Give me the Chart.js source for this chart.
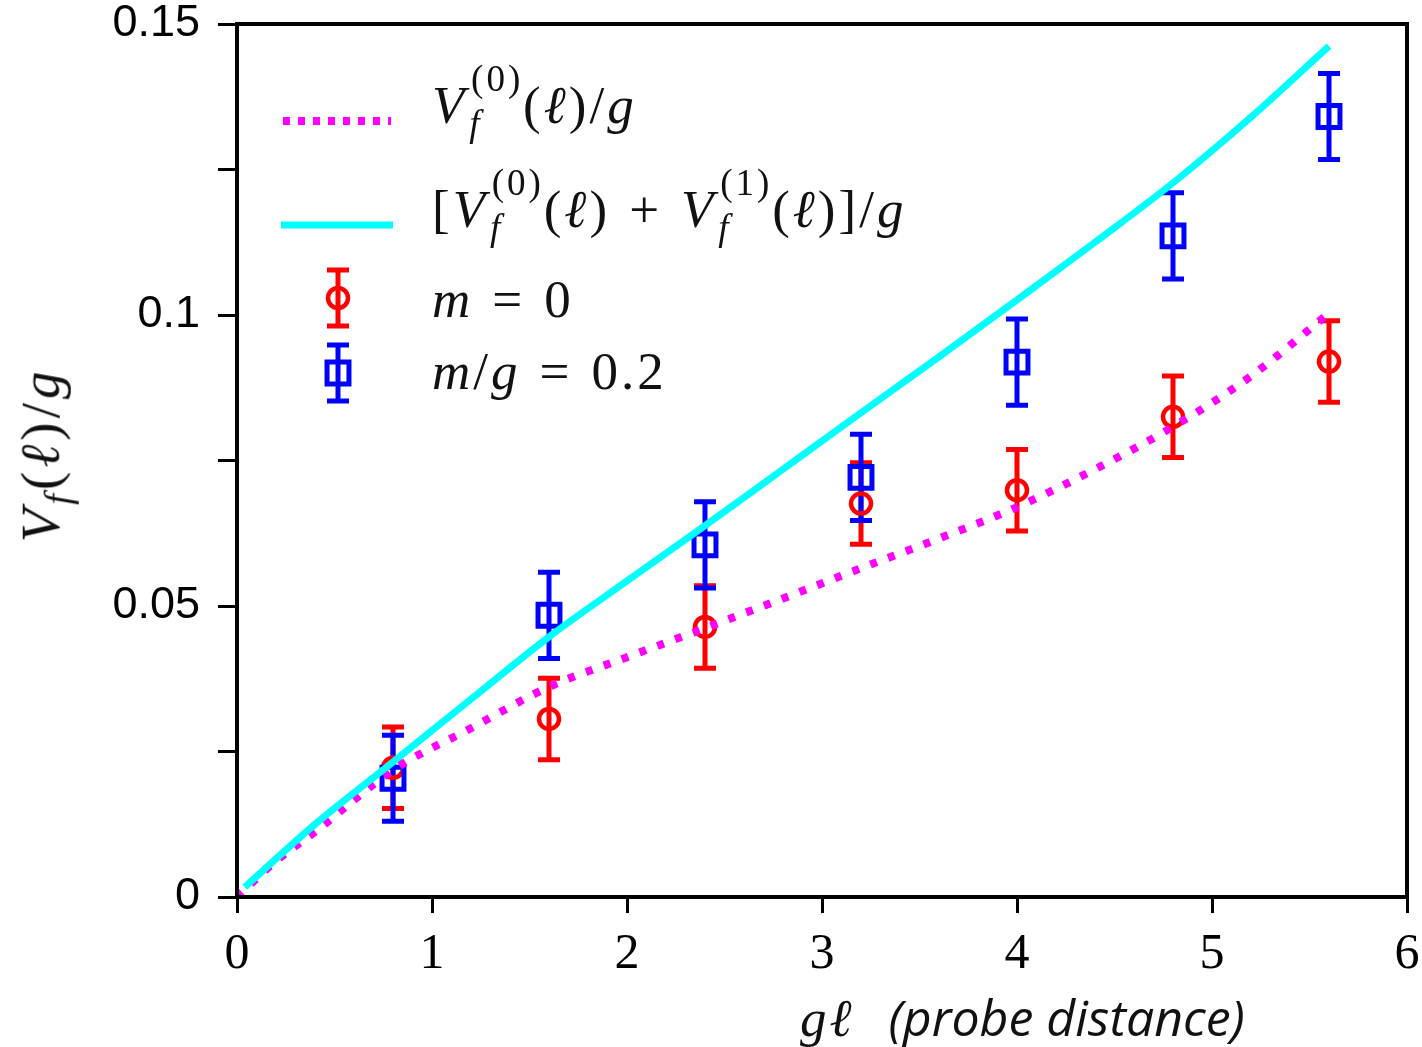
<!DOCTYPE HTML>
<html>
<head>
    <meta charset="utf-8">
    <script src="https://cdn.jsdelivr.net/npm/chart.js"></script>
    <style>
        body {
            margin: 0;
            background: white;
        }
        .wrap {
            position: relative;
            width: 1422px;
            height: 1047px;
        }
        .math {
            position: absolute;
            font-family: 'Liberation Serif', serif;
            font-size: 53px;
            letter-spacing: 3px;
            line-height: 1;
            white-space: nowrap;
            color: #111;
        }
        .math i { font-style: italic; }
        .ss {
            display: inline-block;
            position: relative;
            font-size: 0.7em;
            width: 1.5em;
        }
        .sp { position: relative; top: -0.85em; left: 0.1em; }
        .sb { position: absolute; left: 0.05em; top: 0.35em; font-style: italic; }
        .op { margin: 0 0.36em; }
        #ytitle {
            left: 45px;
            top: 455px;
            font-size: 55px;
            letter-spacing: 4px;
            transform: translate(-50%, -50%) rotate(-90deg);
        }
        #xtitle {
            left: 800px;
            top: 992px;
        }
        #xtitle .probe {
            font-family: 'Open Sans', sans-serif;
            font-style: italic;
            font-size: 50px;
            letter-spacing: 0;
            margin-left: 34px;
        }
    </style>
</head>
<body>
    <div class="wrap">
        <canvas id="chart" width="1422" height="1047"></canvas>

        <div class="math" style="left:432px; top:79px;"><i>V</i><span class="ss"><span class="sp">(0)</span><span class="sb">f</span></span>(<i>ℓ</i>)/<i>g</i></div>
        <div class="math" style="left:432px; top:183px;">[<i>V</i><span class="ss"><span class="sp">(0)</span><span class="sb">f</span></span>(<i>ℓ</i>)<span class="op">+</span><i>V</i><span class="ss"><span class="sp">(1)</span><span class="sb">f</span></span>(<i>ℓ</i>)]/<i>g</i></div>
        <div class="math" style="left:432px; top:273px;"><i>m</i><span class="op">=</span>0</div>
        <div class="math" style="left:432px; top:345px;"><i>m</i>/<i>g</i><span class="op">=</span>0.2</div>

        <div class="math" id="ytitle"><i>V<sub style="font-size:0.7em">f</sub></i>(<i>ℓ</i>)/<i>g</i></div>
        <div class="math" id="xtitle"><i>gℓ</i><span class="probe">(probe distance)</span></div>
    </div>

    <script>
        // x positions (g*l) of the lattice points
        const xPoints = [0.8, 1.6, 2.4, 3.2, 4.0, 4.8, 5.6];
        // m = 0 data and errors
        const m0Values = [0.0222, 0.0306, 0.0464, 0.0676, 0.0699, 0.0825, 0.0920];
        const m0Errors = [0.0070, 0.0070, 0.0071, 0.0070, 0.0070, 0.0070, 0.0070];
        // m/g = 0.2 data and errors
        const m02Values = [0.0204, 0.0484, 0.0605, 0.0721, 0.0919, 0.1136, 0.1341];
        const m02Errors = [0.0074, 0.0074, 0.0074, 0.0074, 0.0074, 0.0074, 0.0074];

        // V_f^(0)/g curve
        const v0X = [0, 0.2, 0.4, 0.8, 1.2, 1.6, 2.0, 2.4, 2.8, 3.2, 3.6, 4.0, 4.4, 4.8, 5.2, 5.6];
        const v0Y = [0, 0.0062, 0.0112, 0.0218, 0.0290, 0.0361, 0.0412, 0.0462, 0.0513, 0.0565, 0.0616, 0.0670, 0.0735, 0.0808, 0.0895, 0.1003];
        // [V_f^(0) + V_f^(1)]/g curve
        const v01X = [0.04, 0.4, 0.8, 1.2, 1.6, 2.0, 2.4, 2.8, 3.2, 3.6, 4.0, 4.4, 4.8, 5.2, 5.6];
        const v01Y = [0.0017, 0.0125, 0.0232, 0.0340, 0.0447, 0.0543, 0.0638, 0.0735, 0.0832, 0.0928, 0.1026, 0.1125, 0.1227, 0.1340, 0.1462];

        const xTickLabels = ['0', '1', '2', '3', '4', '5', '6'];
        const yTickLabels = ['0', '0.05', '0.1', '0.15'];

        const toXY = (xs, ys) => xs.map((x, i) => ({x: x, y: ys[i]}));

        // error bars drawn through the chart scales
        const errorBars = {
            id: 'errorBars',
            beforeDatasetsDraw(chart) {
                const ctx = chart.ctx;
                const xs = chart.scales.x, ys = chart.scales.y;
                chart.data.datasets.forEach(ds => {
                    if (!ds.errors) return;
                    ctx.save();
                    ctx.strokeStyle = ds.borderColor;
                    ctx.lineWidth = 5;
                    ds.data.forEach((p, i) => {
                        const px = xs.getPixelForValue(p.x);
                        const top = ys.getPixelForValue(p.y + ds.errors[i]);
                        const bot = ys.getPixelForValue(p.y - ds.errors[i]);
                        ctx.beginPath();
                        ctx.moveTo(px, top); ctx.lineTo(px, bot);
                        ctx.moveTo(px - 11, top); ctx.lineTo(px + 11, top);
                        ctx.moveTo(px - 11, bot); ctx.lineTo(px + 11, bot);
                        ctx.stroke();
                    });
                    ctx.restore();
                });
            }
        };

        // frame round the plot area
        const frame = {
            id: 'frame',
            afterDraw(chart) {
                const a = chart.chartArea, ctx = chart.ctx;
                ctx.save();
                ctx.strokeStyle = 'black';
                ctx.lineWidth = 4;
                ctx.strokeRect(a.left, a.top, a.right - a.left, a.bottom - a.top);
                ctx.restore();
            }
        };

        // legend samples (the text is html beside them)
        const legendSamples = {
            id: 'legendSamples',
            afterDraw(chart) {
                const ctx = chart.ctx;
                const ds = chart.data.datasets;
                ctx.save();
                ctx.lineCap = 'butt';
                // dotted magenta
                ctx.strokeStyle = ds[0].borderColor;
                ctx.lineWidth = ds[0].borderWidth;
                ctx.setLineDash([7, 8]);
                ctx.beginPath(); ctx.moveTo(283, 121); ctx.lineTo(391, 121); ctx.stroke();
                ctx.setLineDash([]);
                // cyan
                ctx.strokeStyle = ds[1].borderColor;
                ctx.lineWidth = ds[1].borderWidth;
                ctx.beginPath(); ctx.moveTo(281, 225); ctx.lineTo(393, 225); ctx.stroke();
                // symbols with error bars
                [[ds[2], 298], [ds[3], 373]].forEach(([d, cy]) => {
                    ctx.strokeStyle = d.borderColor;
                    ctx.fillStyle = 'rgba(0,0,0,0)';
                    ctx.lineWidth = 5;
                    ctx.beginPath();
                    ctx.moveTo(338, cy - 28); ctx.lineTo(338, cy + 28);
                    ctx.moveTo(327, cy - 28); ctx.lineTo(349, cy - 28);
                    ctx.moveTo(327, cy + 28); ctx.lineTo(349, cy + 28);
                    ctx.stroke();
                    ctx.lineWidth = d.pointBorderWidth;
                    Chart.helpers.drawPoint(ctx, {
                        pointStyle: d.pointStyle, radius: d.pointRadius,
                        borderWidth: d.pointBorderWidth, rotation: 0
                    }, 338, cy);
                });
                ctx.restore();
            }
        };

        new Chart(document.getElementById('chart'), {
            type: 'scatter',
            data: {
                datasets: [{
                    label: 'V0',
                    data: toXY(v0X, v0Y),
                    showLine: true,
                    borderColor: '#ff00ff',
                    borderWidth: 8,
                    borderDash: [7, 12],
                    borderCapStyle: 'butt',
                    cubicInterpolationMode: 'monotone',
                    pointRadius: 0,
                    order: 1
                }, {
                    label: 'V0+V1',
                    data: toXY(v01X, v01Y),
                    showLine: true,
                    borderColor: '#00ffff',
                    borderWidth: 7,
                    cubicInterpolationMode: 'monotone',
                    pointRadius: 0,
                    order: 0
                }, {
                    label: 'm = 0',
                    data: toXY(xPoints, m0Values),
                    errors: m0Errors,
                    borderColor: '#ff0000',
                    backgroundColor: 'rgba(0,0,0,0)',
                    pointStyle: 'circle',
                    pointRadius: 10,
                    pointBorderWidth: 4.5,
                    order: 3
                }, {
                    label: 'm/g = 0.2',
                    data: toXY(xPoints, m02Values),
                    errors: m02Errors,
                    borderColor: '#0000ff',
                    backgroundColor: 'rgba(0,0,0,0)',
                    pointStyle: 'rect',
                    pointRadius: 15.5,
                    pointBorderWidth: 5,
                    order: 2
                }]
            },
            options: {
                responsive: false,
                animation: false,
                layout: { autoPadding: false, padding: { top: 24, right: 15, left: 0, bottom: 0 } },
                plugins: {
                    legend: { display: false },
                    tooltip: { enabled: false }
                },
                scales: {
                    x: {
                        type: 'linear',
                        min: 0, max: 6,
                        afterFit(s) { s.height = 150; s.paddingLeft = 0; s.paddingRight = 0; },
                        grid: { drawOnChartArea: false, color: 'black', lineWidth: 3, tickLength: 16 },
                        border: { color: 'black', width: 4 },
                        ticks: {
                            stepSize: 1,
                            color: 'black',
                            padding: 12,
                            maxRotation: 0,
                            font: { family: 'Liberation Serif', size: 50 },
                            callback: (v, i) => xTickLabels[i]
                        }
                    },
                    y: {
                        min: 0, max: 0.15,
                        afterFit(s) { s.width = 237; s.paddingTop = 0; s.paddingBottom = 0; },
                        grid: { drawOnChartArea: false, color: 'black', lineWidth: 3, tickLength: 19 },
                        border: { color: 'black', width: 4 },
                        ticks: {
                            stepSize: 0.025,
                            color: 'black',
                            padding: 18,
                            font: { family: 'Liberation Sans', size: 45 },
                            callback: (v, i) => i % 2 === 0 ? yTickLabels[i / 2] : ''
                        }
                    }
                }
            },
            plugins: [errorBars, frame, legendSamples]
        });
    </script>
</body>
</html>
